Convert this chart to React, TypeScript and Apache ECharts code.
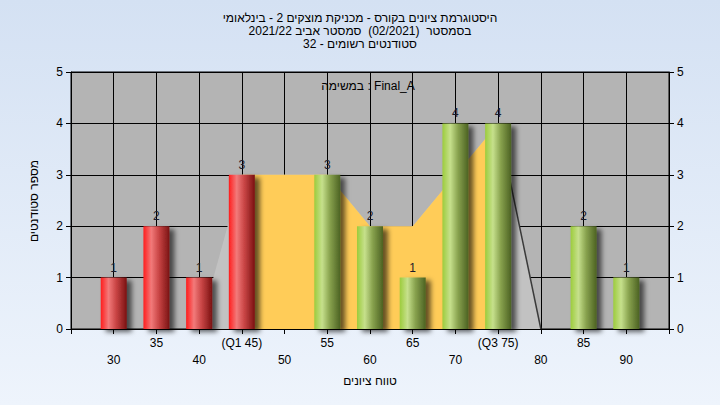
import React, { useEffect, useRef } from "react";
import * as echarts from "echarts";

const titleLines = [
  "היסטוגרמת ציונים בקורס - מכניקת מוצקים 2 - בינלאומי",
  "בסמסטר  (02/2021)  סמסטר אביב 2021/22",
  "סטודנטים רשומים - 32",
];
const seriesName = "במשימה : Final_A";
const xAxisName = "טווח ציונים";
const yAxisName = "מספר סטודנטים";

const categories = [30, 35, 40, 45, 50, 55, 60, 65, 70, 75, 80, 85, 90];
const counts = [1, 2, 1, 3, 0, 3, 2, 1, 4, 4, 0, 2, 1];
const areaValues = [0, 0, 0, 3, 3, 3, 2, 2, 3, 4, 0, 0, 0];
const quartileValues = [null, null, null, 3, 3, 3, 2, 2, 3, 4, null, null, null];
const upperTickValues = [35, 45, 55, 65, 75, 85];
const upperTickLabels = ["35", "(Q1 45)", "55", "65", "(Q3 75)", "85"];
const lowerTickValues = [30, 40, 50, 60, 70, 80, 90];
const lowerTickLabels = ["30", "40", "50", "60", "70", "80", "90"];
const passFrom = 50;

const FONT = "'Liberation Sans', Arial, sans-serif";

export default function App() {
  const ref = useRef<HTMLDivElement>(null);
  useEffect(() => {
    const chart = echarts.init(ref.current!, null, { renderer: "svg" });
    const redGrad = new echarts.graphic.LinearGradient(0, 0, 1, 0, [
      { offset: 0, color: "#ff1c1c" },
      { offset: 0.3, color: "#f27a7a" },
      { offset: 0.6, color: "#c84444" },
      { offset: 1, color: "#7a1212" },
    ]);
    const greenGrad = new echarts.graphic.LinearGradient(0, 0, 1, 0, [
      { offset: 0, color: "#9ccc3c" },
      { offset: 0.3, color: "#c6e08c" },
      { offset: 0.6, color: "#88a24e" },
      { offset: 1, color: "#4c6222" },
    ]);
    const barData = categories
      .map((c, i) => ({ c, v: counts[i] }))
      .filter((d) => d.v > 0)
      .map((d) => ({
        value: [d.c, d.v],
        itemStyle: { color: d.c < passFrom ? redGrad : greenGrad },
      }));
    const areaData = categories.map((c, i) => [c, areaValues[i]]);
    const quartData = categories
      .map((c, i) => [c, quartileValues[i]])
      .filter((d) => d[1] !== null);
    const dropData = categories
      .map((c, i) => [c, areaValues[i]])
      .slice(9, 11);

    const upperFmt = (v: number) => {
      const k = upperTickValues.indexOf(Math.round(v));
      return k >= 0 ? upperTickLabels[k] : "";
    };
    const lowerFmt = (v: number) => {
      const k = lowerTickValues.indexOf(Math.round(v));
      return k >= 0 ? lowerTickLabels[k] : "";
    };
    const black = { color: "#000", width: 1 };

    chart.setOption({
      animation: false,
      backgroundColor: "transparent",
      textStyle: { fontFamily: FONT },
      title: {
        text: titleLines.join("\n"),
        left: "center",
        top: 11,
        padding: 0,
        textStyle: { fontSize: 12, fontWeight: "normal", color: "#000", lineHeight: 13, fontFamily: FONT },
      },
      grid: {
        left: 71, top: 72, right: 51, bottom: 76,
        show: true, backgroundColor: "#b4b4b4", borderColor: "#000", borderWidth: 1,
      },
      xAxis: [
        {
          type: "value", min: 25, max: 95, interval: 5, position: "bottom",
          axisLine: { show: true, lineStyle: black },
          axisTick: { show: true, length: 5, lineStyle: black },
          splitLine: { show: true, lineStyle: black },
          axisLabel: { margin: 8, fontSize: 12, color: "#000", formatter: upperFmt, fontFamily: FONT },
          name: xAxisName, nameLocation: "middle", nameGap: 46,
          nameTextStyle: { fontSize: 12, color: "#000", fontFamily: FONT },
        },
        {
          type: "value", min: 25, max: 95, interval: 5, position: "bottom",
          axisLine: { show: false }, axisTick: { show: false }, splitLine: { show: false },
          axisLabel: { margin: 25, fontSize: 12, color: "#000", formatter: lowerFmt, fontFamily: FONT },
        },
      ],
      yAxis: [
        {
          type: "value", min: 0, max: 5, interval: 1, position: "left",
          axisLine: { show: true, lineStyle: black },
          axisTick: { show: true, length: 5, lineStyle: black },
          splitLine: { show: true, lineStyle: black },
          axisLabel: { margin: 8, fontSize: 12, color: "#000", fontFamily: FONT },
        },
        {
          type: "value", min: 0, max: 5, interval: 1, position: "right",
          axisLine: { show: true, lineStyle: black },
          axisTick: { show: true, length: 5, lineStyle: black },
          splitLine: { show: false },
          axisLabel: { margin: 8, fontSize: 12, color: "#000", fontFamily: FONT },
        },
      ],
      graphic: [
        {
          type: "text", x: 34, y: 201, rotation: Math.PI / 2,
          style: {
            text: yAxisName, fill: "#000", font: `12px ${FONT}`,
            textAlign: "center", textVerticalAlign: "middle", align: "center", verticalAlign: "middle",
          },
        },
        {
          type: "text", x: 368, y: 86,
          style: {
            text: seriesName, fill: "#000", font: `12px ${FONT}`,
            textAlign: "center", textVerticalAlign: "middle", align: "center", verticalAlign: "middle",
          },
        },
      ],
      series: [
        {
          type: "line", data: areaData, symbol: "none", z: 2,
          lineStyle: { width: 0 }, areaStyle: { color: "#c2c2c2", opacity: 1 },
        },
        {
          type: "line", data: quartData, symbol: "none", z: 3,
          lineStyle: { width: 0 }, areaStyle: { color: "#ffcc58", opacity: 1 },
        },
        {
          type: "line", data: dropData, symbol: "none", z: 4,
          lineStyle: { width: 1.5, color: "#3a3a3a" },
        },
        {
          type: "bar", data: barData, barWidth: 26, z: 6,
          itemStyle: {
            shadowBlur: 5, shadowColor: "rgba(0,0,0,0.6)", shadowOffsetX: 5, shadowOffsetY: 3,
          },
          label: {
            show: true, position: "top", distance: 4, fontSize: 12, color: "#1a1a2a",
            fontFamily: FONT, formatter: (p: any) => String(p.value[1]),
          },
        },
      ],
    });
    return () => chart.dispose();
  }, []);
  return (
    <div
      ref={ref}
      style={{
        position: "fixed", left: 0, top: 0, width: 720, height: 405,
        background: "linear-gradient(to bottom, #d4e1f3, #eef4fc)",
      }}
    />
  );
}
